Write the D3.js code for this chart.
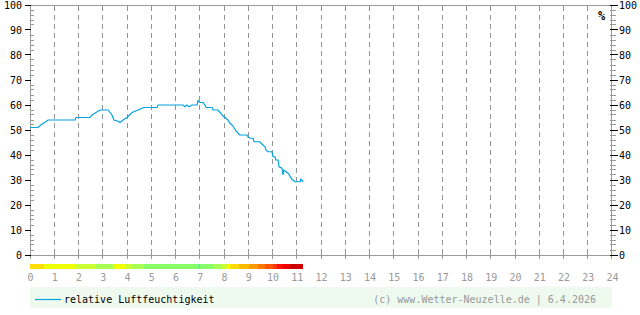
<!DOCTYPE html>
<html>
<head>
<meta charset="utf-8">
<script src="https://cdn.jsdelivr.net/npm/d3@7/dist/d3.min.js"></script>
<style>
  html, body { margin: 0; padding: 0; background: #fff; }
  svg { display: block; }
  text { font-family: "DejaVu Sans Mono", "Liberation Mono", monospace; }
</style>
</head>
<body>
<script>
// ---- data ----
const hours = [0.00,0.33,0.41,0.54,0.66,0.74,1.86,1.90,2.47,2.56,2.72,2.89,3.22,3.30,3.38,3.46,3.63,3.71,3.84,4.00,4.21,4.45,4.70,5.24,5.28,6.31,6.39,6.47,6.56,6.68,6.89,6.93,7.01,7.13,7.22,7.26,7.51,7.55,7.75,7.84,7.92,8.00,8.08,8.16,8.25,8.33,8.41,8.49,8.58,8.66,8.95,8.99,9.07,9.20,9.24,9.48,9.53,9.69,9.73,9.81,9.98,10.02,10.10,10.14,10.23,10.27,10.39,10.43,10.47,10.56,10.64,10.72,10.80,10.93,11.13,11.17,11.26];
const humidity = [51,51,51.7,52.7,53.3,54,54,55,55,56,57,58,58,57,56,54,53.5,53,54,55,57,58,59,59,60,60,59.3,60,59.3,60,60,61.7,61,61,60,59,59,58,58,57,56,55.3,54.7,54,52.7,52,51,49.7,48.7,48,48,47.3,46.7,46.7,45.3,45.3,44.7,43.3,42,41.3,41.3,39.3,39.3,38,38,35.3,34.7,32,34,33.3,32.7,31.6,30.3,29.3,29.3,30.3,29.3];

const barBounds = [0,0.577,1.897,2.722,3.423,3.959,4.206,4.701,6.928,7.010,7.546,7.918,8.124,8.247,8.619,9.031,9.402,9.691,10.021,10.186,10.433,10.722,11.258];
const barColors = ["#ffdd00","#eeff00","#ccff33","#aaff55","#eeff00","#ccff33","#aaff55","#88ff66","#66ee88","#88ff66","#aaff55","#ccff33","#eeff00","#ffdd00","#ffbb00","#ff9900","#ff7700","#ff5500","#ff3300","#ff1100","#ee0000","#cc0000"];

const xTicks = d3.range(0, 25, 1);
const yMajor = d3.range(0, 101, 10);
const yMinor = d3.range(0, 101, 2).filter(v => v % 10 !== 0);

const seriesName = "relative Luftfeuchtigkeit";
const copyright = "(c) www.Wetter-Neuzelle.de | 6.4.2026";
const unit = "%";

// ---- chart ----
const W = 640, H = 315;
const svg = d3.select("body").append("svg").attr("width", W).attr("height", H);

const x = d3.scaleLinear().domain([0, 24]).range([30, 612]);
const y = d3.scaleLinear().domain([0, 100]).range([255, 5]);
const gray = "#999999";
const px = v => Math.floor(v) + 0.5;
const xr = Math.floor(x(24)) - 0.5; // right axis column

// vertical dashed grid
svg.append("g").selectAll("line").data(xTicks.filter(h => h > 0 && h < 24)).join("line")
  .attr("x1", d => px(x(d))).attr("x2", d => px(x(d)))
  .attr("y1", y(100) + 1).attr("y2", y(0))
  .attr("stroke", "#949494").attr("stroke-dasharray", "5,4").attr("shape-rendering", "crispEdges");

// frame lines: top, bottom, left, right
const fr = svg.append("g").attr("stroke", gray).attr("shape-rendering", "crispEdges");
fr.append("line").attr("x1", x(0)).attr("x2", xr + 0.5).attr("y1", y(100) + 0.5).attr("y2", y(100) + 0.5);
fr.append("line").attr("x1", x(0)).attr("x2", xr + 0.5).attr("y1", y(0) + 0.5).attr("y2", y(0) + 0.5);
fr.append("line").attr("x1", x(0) + 0.5).attr("x2", x(0) + 0.5).attr("y1", y(100)).attr("y2", y(0) + 1);
fr.append("line").attr("x1", xr).attr("x2", xr).attr("y1", y(100)).attr("y2", y(0) + 1);

// hour ticks on bottom axis
svg.append("g").selectAll("line").data(xTicks).join("line")
  .attr("x1", d => d === 24 ? xr : px(x(d))).attr("x2", d => d === 24 ? xr : px(x(d)))
  .attr("y1", y(0) - 3).attr("y2", y(0) + 4)
  .attr("stroke", gray).attr("shape-rendering", "crispEdges");

// y minor ticks
svg.append("g").selectAll("line").data(yMinor).join("line")
  .attr("x1", x(0)).attr("x2", x(0) + 4)
  .attr("y1", d => px(y(d))).attr("y2", d => px(y(d)))
  .attr("stroke", gray).attr("shape-rendering", "crispEdges");
svg.append("g").selectAll("line").data(yMinor).join("line")
  .attr("x1", xr - 1.5).attr("x2", xr + 4)
  .attr("y1", d => px(y(d))).attr("y2", d => px(y(d)))
  .attr("stroke", gray).attr("shape-rendering", "crispEdges");

// y major ticks
svg.append("g").selectAll("line").data(yMajor).join("line")
  .attr("x1", x(0) - 5).attr("x2", x(0) + 1)
  .attr("y1", d => px(y(d))).attr("y2", d => px(y(d)))
  .attr("stroke", "#000").attr("shape-rendering", "crispEdges");
svg.append("g").selectAll("line").data(yMajor).join("line")
  .attr("x1", xr - 1.5).attr("x2", xr + 6)
  .attr("y1", d => px(y(d))).attr("y2", d => px(y(d)))
  .attr("stroke", "#000").attr("shape-rendering", "crispEdges");

// y labels
svg.append("g").selectAll("text").data(yMajor).join("text")
  .attr("x", 22).attr("y", d => y(d) + 4)
  .attr("text-anchor", "end").attr("font-size", 10).attr("fill", "#000")
  .text(d => d);
svg.append("g").selectAll("text").data(yMajor).join("text")
  .attr("x", 619).attr("y", d => y(d) + 4)
  .attr("text-anchor", "start").attr("font-size", 10).attr("fill", "#000")
  .text(d => d);

svg.append("text").attr("x", 601.5).attr("y", 20).attr("text-anchor", "middle")
  .attr("font-size", 12).attr("font-weight", "bold").attr("fill", "#000").text(unit);

// colour bar
svg.append("g").selectAll("rect").data(barColors).join("rect")
  .attr("x", (d, i) => x(barBounds[i]))
  .attr("width", (d, i) => x(barBounds[i + 1]) - x(barBounds[i]) + 0.3)
  .attr("y", 264).attr("height", 5)
  .attr("fill", d => d).attr("shape-rendering", "crispEdges");

// x labels
svg.append("g").selectAll("text").data(xTicks).join("text")
  .attr("x", d => x(d) + 0.5).attr("y", 281)
  .attr("text-anchor", "middle").attr("font-size", 10).attr("fill", gray)
  .text(d => d);

// humidity line
const line = d3.line().x((d, i) => x(hours[i])).y(d => y(d));
svg.append("path").datum(humidity)
  .attr("d", line).attr("fill", "none")
  .attr("stroke", "#00a2e0").attr("stroke-width", 1.2);

// legend
svg.append("rect").attr("x", 30).attr("y", 287).attr("width", 582).attr("height", 21)
  .attr("fill", "#eefaee");
svg.append("line").attr("x1", 35).attr("x2", 61).attr("y1", 299.5).attr("y2", 299.5)
  .attr("stroke", "#00a2e0").attr("stroke-width", 1.2);
svg.append("text").attr("x", 64).attr("y", 303).attr("font-size", 10).attr("fill", "#000")
  .text(seriesName);
svg.append("text").attr("x", 596).attr("y", 303).attr("text-anchor", "end")
  .attr("font-size", 10).attr("fill", gray).text(copyright);
</script>
</body>
</html>
